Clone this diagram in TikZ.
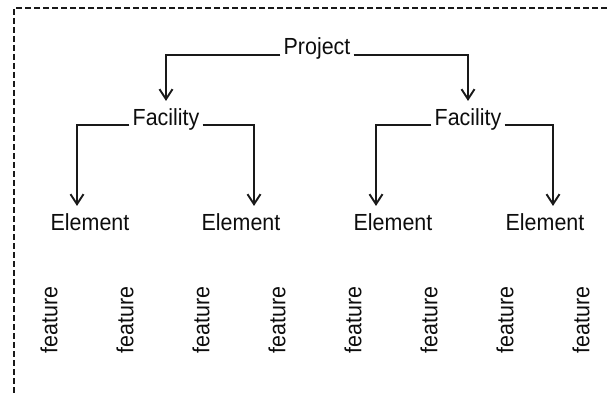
\documentclass[tikz,border=0pt]{standalone}
\usepackage{fontspec}
\setmainfont[FakeStretch=0.92]{Liberation Sans}
\usepackage{xcolor}
\usetikzlibrary{arrows.meta, positioning}

\begin{document}
\begin{tikzpicture}[
  x=1pt, y=-1pt,
  font=\fontsize{23.3}{28}\selectfont,
  level/.style={inner xsep=3pt, inner ysep=7pt, anchor=base, text=black!95},
  feat/.style={inner sep=0pt, rotate=90, text=black!95},
  flow/.style={-{Straight Barb[length=10pt, width=13pt, line width=1.9pt]},
               draw=black!90, line width=1.2pt},
  frame/.style={draw=black!90, line width=2.3pt, dash pattern=on 6pt off 3pt},
]
\useasboundingbox (0,0) rectangle (607,393);
\draw[frame] (607,8) -- (14,8) -- (14,393);

\node[level] (proj) at (317,55) {Project};

\node[level] (fac1) at (166,125) {Facility};
\node[level] (fac2) at (468,125) {Facility};

\node[level] (el1) at (90,230) {Element};
\node[level] (el2) at (241,230) {Element};
\node[level] (el3) at (393,230) {Element};
\node[level] (el4) at (545,230) {Element};

\foreach \i in {0,...,7}
  \node[feat] (ft\i) at (49+76*\i,320) {feature};

\draw[flow] (proj.base west) -| (fac1.north);
\draw[flow] (proj.base east) -| (fac2.north);
\draw[flow] (fac1.base west) -| ([xshift=-13pt]el1.north);
\draw[flow] (fac1.base east) -| ([xshift=13pt]el2.north);
\draw[flow] (fac2.base west) -| ([xshift=-17pt]el3.north);
\draw[flow] (fac2.base east) -| ([xshift=8pt]el4.north);

\end{tikzpicture}
\end{document}
